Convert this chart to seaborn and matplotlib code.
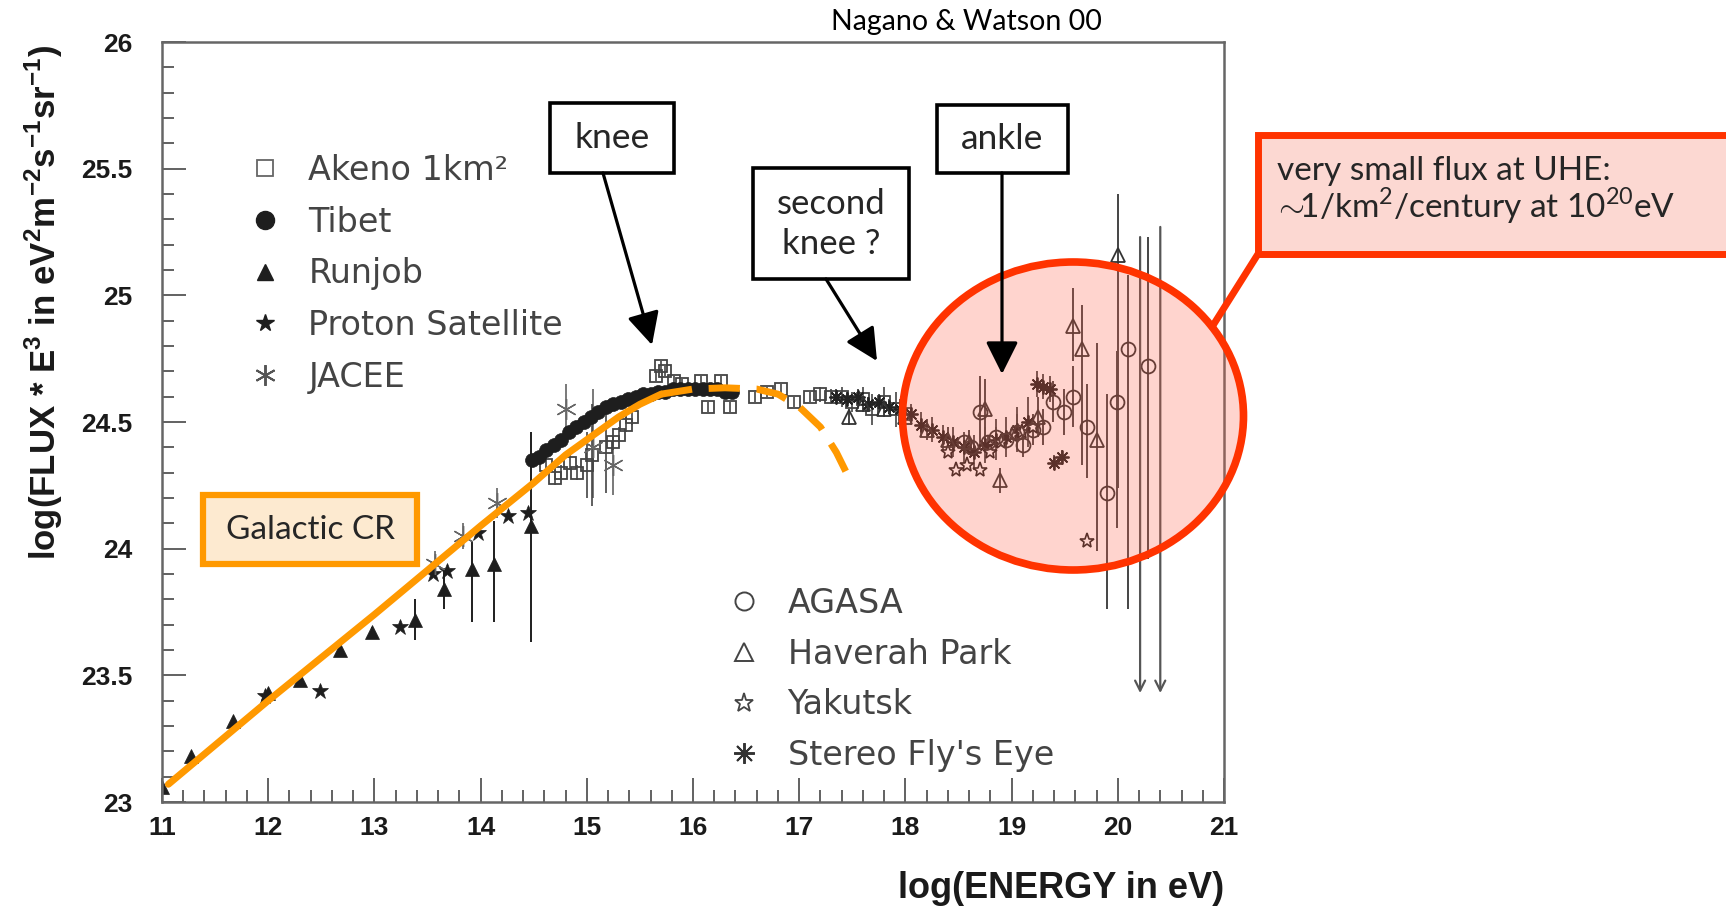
import matplotlib
matplotlib.use("Agg")
import matplotlib.pyplot as plt
import seaborn as sns
from matplotlib.patches import Rectangle, Ellipse, FancyArrowPatch
from matplotlib.lines import Line2D
from matplotlib.ticker import MultipleLocator, FuncFormatter

# ---------------- data ----------------
runjob_x = [11.00, 11.27, 11.67, 12.00, 12.30, 12.68, 12.98, 13.38, 13.66, 13.92, 14.13, 14.47]
runjob_y = [23.06, 23.18, 23.32, 23.43, 23.48, 23.60, 23.67, 23.72, 23.84, 23.92, 23.94, 24.09]
runjob_lo = [0.0, 0.0, 0.0, 0.0, 0.0, 0.02, 0.02, 0.08, 0.08, 0.21, 0.23, 0.46]
runjob_hi = [0.0, 0.0, 0.0, 0.0, 0.0, 0.02, 0.02, 0.08, 0.07, 0.11, 0.17, 0.37]

proton_x = [11.97, 12.49, 13.24, 13.55, 13.68, 13.98, 14.26, 14.45]
proton_y = [23.42, 23.44, 23.69, 23.90, 23.91, 24.06, 24.13, 24.14]

jacee_x = [13.57, 13.83, 14.15, 14.80, 15.06, 15.25]
jacee_y = [23.94, 24.05, 24.18, 24.55, 24.40, 24.33]
jacee_lo = [0.05, 0.05, 0.06, 0.12, 0.20, 0.12]
jacee_hi = [0.05, 0.05, 0.06, 0.10, 0.23, 0.10]

tibet_x = [14.48, 14.55, 14.62, 14.69, 14.76, 14.83, 14.90, 14.97, 15.04, 15.11,
           15.18, 15.25, 15.32, 15.39, 15.46, 15.53, 15.60, 15.67, 15.74, 15.81,
           15.88, 15.95, 16.02, 16.09, 16.16, 16.23, 16.30, 16.37]
tibet_y = [24.35, 24.36, 24.39, 24.41, 24.43, 24.46, 24.48, 24.50, 24.52, 24.54,
           24.56, 24.57, 24.58, 24.59, 24.60, 24.61, 24.61, 24.62, 24.62, 24.63,
           24.63, 24.63, 24.63, 24.63, 24.63, 24.63, 24.62, 24.62]

akeno_x = [14.62, 14.70, 14.76, 14.84, 14.91, 15.00, 15.05, 15.18, 15.25, 15.30,
           15.37, 15.43, 15.65, 15.70, 15.74, 15.82, 15.90, 16.08, 16.14, 16.26,
           16.35, 16.58, 16.70, 16.83, 16.95, 17.10, 17.20, 17.30, 17.40, 17.50,
           17.60, 17.69, 17.80, 17.91, 18.00]
akeno_y = [24.33, 24.28, 24.30, 24.34, 24.30, 24.33, 24.37, 24.40, 24.42, 24.45,
           24.49, 24.52, 24.68, 24.72, 24.70, 24.66, 24.65, 24.66, 24.56, 24.66,
           24.56, 24.60, 24.62, 24.63, 24.58, 24.60, 24.61, 24.60, 24.60, 24.58,
           24.59, 24.55, 24.58, 24.55, 24.53]
akeno_err = [0.03, 0.03, 0.03, 0.03, 0.03, 0.13, 0.20, 0.18, 0.03, 0.03,
             0.03, 0.03, 0.02, 0.02, 0.02, 0.02, 0.02, 0.02, 0.02, 0.02,
             0.02, 0.02, 0.02, 0.02, 0.02, 0.02, 0.03, 0.03, 0.04, 0.04,
             0.05, 0.06, 0.06, 0.07, 0.07]

fly_x = [17.35, 17.45, 17.55, 17.65, 17.75, 17.85, 17.95, 18.05, 18.15, 18.25,
         18.35, 18.45, 18.55, 18.65, 18.75, 18.85, 18.95, 19.05, 19.15, 19.24,
         19.30, 19.36, 19.40, 19.47]
fly_y = [24.60, 24.59, 24.60, 24.57, 24.58, 24.56, 24.55, 24.53, 24.49, 24.47,
         24.44, 24.42, 24.40, 24.38, 24.41, 24.43, 24.44, 24.47, 24.50, 24.65,
         24.64, 24.63, 24.34, 24.36]
fly_err = [0.03, 0.03, 0.03, 0.03, 0.03, 0.03, 0.04, 0.04, 0.05, 0.05,
           0.05, 0.06, 0.06, 0.07, 0.07, 0.08, 0.08, 0.09, 0.10, 0.05,
           0.05, 0.05, 0.03, 0.03]

yak_x = [18.40, 18.48, 18.58, 18.70, 18.80, 18.90, 19.00, 19.10, 19.20, 19.71]
yak_y = [24.38, 24.31, 24.33, 24.31, 24.38, 24.42, 24.45, 24.46, 24.48, 24.03]

hp_x = [17.47, 17.60, 17.80, 18.00, 18.20, 18.40, 18.60, 18.75, 18.89, 19.05,
        19.25, 19.58, 19.66, 19.80, 20.00]
hp_y = [24.52, 24.57, 24.55, 24.52, 24.47, 24.43, 24.42, 24.55, 24.27, 24.46,
        24.52, 24.88, 24.79, 24.43, 25.16]
hp_lo = [0.03, 0.03, 0.03, 0.03, 0.04, 0.05, 0.05, 0.12, 0.05, 0.07,
         0.08, 0.14, 0.46, 0.44, 0.92]
hp_hi = [0.03, 0.03, 0.03, 0.03, 0.04, 0.05, 0.05, 0.12, 0.05, 0.07,
         0.08, 0.15, 0.17, 0.38, 0.24]

agasa_x = [18.55, 18.62, 18.70, 18.78, 18.85, 18.95, 19.05, 19.11, 19.20, 19.30,
           19.39, 19.49, 19.58, 19.71, 19.90, 19.99, 20.10, 20.28]
agasa_y = [24.42, 24.40, 24.54, 24.42, 24.44, 24.43, 24.46, 24.41, 24.47, 24.48,
           24.58, 24.54, 24.60, 24.48, 24.22, 24.58, 24.79, 24.72]
agasa_lo = [0.03, 0.03, 0.15, 0.03, 0.04, 0.04, 0.05, 0.05, 0.06, 0.07,
            0.08, 0.09, 0.12, 0.20, 0.46, 0.50, 1.03, 0.76]
agasa_hi = [0.03, 0.03, 0.14, 0.03, 0.04, 0.04, 0.05, 0.05, 0.06, 0.07,
            0.08, 0.09, 0.12, 0.17, 0.39, 0.20, 0.29, 0.51]

limit_x = [20.21, 20.40]
limit_top = [25.23, 25.27]
limit_bottom = [23.43, 23.43]

gal_solid_x = [11.06, 12.00, 13.00, 14.00, 14.50, 14.80, 15.00, 15.30, 15.50, 15.70]
gal_solid_y = [23.07, 23.40, 23.74, 24.09, 24.26, 24.37, 24.43, 24.52, 24.57, 24.61]
gal_dash_x = [15.70, 16.00, 16.30, 16.60, 16.80, 17.00, 17.20, 17.35, 17.48]
gal_dash_y = [24.61, 24.63, 24.635, 24.63, 24.61, 24.56, 24.48, 24.38, 24.27]

legend1_labels = ["Akeno 1km\u00b2", "Tibet", "Runjob", "Proton Satellite", "JACEE"]
legend2_labels = ["AGASA", "Haverah Park", "Yakutsk", "Stereo Fly's Eye"]

# ---------------- style ----------------
sns.set_theme(style="white")
plt.rcParams["font.family"] = ["DejaVu Sans"]
plt.rcParams["mathtext.fontset"] = "custom"
plt.rcParams["mathtext.rm"] = "Lato"
plt.rcParams["mathtext.bf"] = "Liberation Sans:bold"

W, H = 1726, 909
fig = plt.figure(figsize=(W / 100, H / 100), dpi=100)
fig.patch.set_facecolor("white")
ax = fig.add_axes([162 / W, 1 - 802 / H, (1224 - 162) / W, (802 - 42) / H])
ax.set_facecolor("white")

DARK = "#1e1e1e"
ASTER6 = (6, 2, 0)
ASTER8 = (8, 2, 0)


def pts(x, y, **kw):
    sns.lineplot(x=x, y=y, estimator=None, sort=False, errorbar=None,
                 linestyle="none", legend=False, ax=ax, **kw)


# error bars
ax.errorbar(runjob_x, runjob_y, yerr=[runjob_lo, runjob_hi], fmt="none",
            ecolor=DARK, elinewidth=1.4, zorder=2)
ax.errorbar(jacee_x, jacee_y, yerr=[jacee_lo, jacee_hi], fmt="none",
            ecolor="#555", elinewidth=1.1, zorder=2)
ax.errorbar(akeno_x, akeno_y, yerr=akeno_err, fmt="none",
            ecolor="#444", elinewidth=1.2, zorder=2)
ax.errorbar(fly_x, fly_y, yerr=fly_err, fmt="none",
            ecolor="#333", elinewidth=1.2, zorder=2)
ax.errorbar(hp_x, hp_y, yerr=[hp_lo, hp_hi], fmt="none",
            ecolor="#444", elinewidth=1.4, zorder=2)
ax.errorbar(agasa_x, agasa_y, yerr=[agasa_lo, agasa_hi], fmt="none",
            ecolor="#444", elinewidth=1.4, zorder=2)
for lx, lt, lb in zip(limit_x, limit_top, limit_bottom):
    ax.annotate("", xy=(lx, lb), xytext=(lx, lt),
                arrowprops=dict(arrowstyle="->,head_length=0.6,head_width=0.3",
                                color="#555", lw=1.6, shrinkA=0, shrinkB=0))

# markers
pts(akeno_x, akeno_y, marker="s", markersize=9, mfc="none", mec="#444", mew=1.3)
pts(tibet_x, tibet_y, marker="o", markersize=10, mfc=DARK, mec=DARK, mew=0.5)
pts(runjob_x, runjob_y, marker="^", markersize=10, mfc=DARK, mec=DARK, mew=0.5)
pts(proton_x, proton_y, marker="*", markersize=12, mfc=DARK, mec=DARK, mew=0.5)
pts(jacee_x, jacee_y, marker=ASTER6, markersize=15, mfc="none", mec="#666", mew=1.0)
pts(fly_x, fly_y, marker=ASTER8, markersize=10, mfc="none", mec="#222", mew=1.3)
pts(yak_x, yak_y, marker="*", markersize=11, mfc="white", mec="#222", mew=1.2)
pts(hp_x, hp_y, marker="^", markersize=10, mfc="none", mec="#333", mew=1.3)
pts(agasa_x, agasa_y, marker="o", markersize=10, mfc="none", mec="#333", mew=1.3)

# orange galactic CR curve
ORANGE = "#FF9900"
sns.lineplot(x=gal_solid_x, y=gal_solid_y, estimator=None, sort=False, errorbar=None,
             color=ORANGE, lw=5, legend=False, ax=ax, zorder=4)
sns.lineplot(x=gal_dash_x, y=gal_dash_y, estimator=None, sort=False, errorbar=None,
             color=ORANGE, lw=5, linestyle=(0, (4.5, 2.4)), legend=False, ax=ax, zorder=4)

# axes
ax.set_xlim(11, 21)
ax.set_ylim(23, 26)
ax.set_xlabel("")
ax.set_ylabel("")
ax.xaxis.set_major_locator(MultipleLocator(1))
ax.xaxis.set_minor_locator(MultipleLocator(0.2))
ax.yaxis.set_major_locator(MultipleLocator(0.5))
ax.yaxis.set_minor_locator(MultipleLocator(0.1))
ax.yaxis.set_major_formatter(FuncFormatter(lambda v, p: f"{v:g}"))
ax.xaxis.set_major_formatter(FuncFormatter(lambda v, p: f"{v:g}"))
ax.tick_params(which="both", direction="in", top=False, right=False,
               bottom=True, left=True, color="#555", width=1.3)
ax.tick_params(which="major", length=17)
ax.tick_params(which="minor", length=8.5)
ax.tick_params(axis="x", pad=10)
ax.tick_params(axis="y", pad=21)
for lbl in ax.get_xticklabels() + ax.get_yticklabels():
    lbl.set_fontfamily(["Liberation Sans Narrow", "Liberation Sans"])
    lbl.set_fontweight("bold")
    lbl.set_fontsize(19)
    lbl.set_color("#1a1a1a")
for sp in ax.spines.values():
    sp.set_color("#666")
    sp.set_linewidth(1.8)

# legends
h1 = [Line2D([], [], ls="none", marker="s", ms=12, mfc="none", mec="#666", mew=1.3),
      Line2D([], [], ls="none", marker="o", ms=13, mfc=DARK, mec=DARK),
      Line2D([], [], ls="none", marker="^", ms=12, mfc=DARK, mec=DARK),
      Line2D([], [], ls="none", marker="*", ms=13, mfc=DARK, mec=DARK),
      Line2D([], [], ls="none", marker=ASTER6, ms=15, mfc="none", mec="#555", mew=1.4)]
leg1 = ax.legend(handles=h1, labels=legend1_labels, loc="upper left",
                 bbox_to_anchor=((248.5 - 162) / 1062, (802 - 154) / 760),
                 frameon=False, fontsize=24, labelcolor="#444", handlelength=1.0,
                 handletextpad=0.8, labelspacing=0.56, borderpad=0, borderaxespad=0)
ax.add_artist(leg1)
h2 = [Line2D([], [], ls="none", marker="o", ms=13, mfc="none", mec="#444", mew=1.4),
      Line2D([], [], ls="none", marker="^", ms=13, mfc="none", mec="#444", mew=1.4),
      Line2D([], [], ls="none", marker="*", ms=14, mfc="white", mec="#444", mew=1.3),
      Line2D([], [], ls="none", marker=ASTER8, ms=15, mfc="none", mec="#333", mew=1.4)]
leg2 = ax.legend(handles=h2, labels=legend2_labels, loc="upper left",
                 bbox_to_anchor=((727.5 - 162) / 1062, (802 - 587) / 760),
                 frameon=False, fontsize=24, labelcolor="#444", handlelength=1.0,
                 handletextpad=0.8, labelspacing=0.53, borderpad=0, borderaxespad=0)

# axis titles
fig.text(44 / W, 1 - 302 / H,
         r"log(FLUX * E$^{\mathbf{3}}$ in eV$^{\mathbf{2}}$m$^{\mathbf{-2}}$s$^{\mathbf{-1}}$sr$^{\mathbf{-1}}$)",
         rotation=90, ha="center", va="center", fontsize=25, fontweight="bold",
         family="Liberation Sans", color="#1a1a1a")
fig.text(1224 / W, 1 - 889 / H, "log(ENERGY in eV)", ha="right", va="center",
         fontsize=26, fontweight="bold", family="Liberation Sans", color="#1a1a1a")
fig.text(966 / W, 1 - 22 / H, "Nagano & Watson 00", ha="center", va="center",
         fontsize=20.5, family="Lato", color="black")


# ---------------- annotations (figure pixel layout) ----------------
def fxy(px, py):
    return (px / W, 1 - py / H)


def box(x0, y0, x1, y1, ec, fc, lw, z=3):
    r = Rectangle(fxy(x0, y1), (x1 - x0) / W, (y1 - y0) / H, transform=fig.transFigure,
                  ec=ec, fc=fc, lw=lw, zorder=z, clip_on=False)
    fig.add_artist(r)


def arrow(p0, p1):
    a = FancyArrowPatch(fxy(*p0), fxy(*p1), transform=fig.transFigure,
                        arrowstyle="-|>,head_length=0.9,head_width=0.45",
                        mutation_scale=22, lw=2.3, color="black", zorder=6,
                        shrinkA=0, shrinkB=0)
    fig.add_artist(a)


RED = "#FF3300"
ell = Ellipse(fxy(1073, 416), 341 / W, 308 / H, transform=fig.transFigure,
              ec=RED, fc=(1.0, 0.36, 0.26, 0.26), lw=5.5, zorder=2)
fig.add_artist(ell)
fig.add_artist(Line2D([1258 / W, 1212 / W], [1 - 254 / H, 1 - 327 / H],
                      transform=fig.transFigure, color=RED, lw=5, zorder=2))
box(1258, 135, 1745, 254, RED, "#FCD8D2", 5, z=3)
fig.text(1277 / W, 1 - 171 / H, "very small flux at UHE:", ha="left", va="center",
         fontsize=24, family="Lato", zorder=7)
fig.text(1277 / W, 1 - 206 / H, r"$\!{\sim}\!\!$1/km$^{2}$/century at 10$^{20}$eV",
         ha="left", va="center", fontsize=24, family="Lato", zorder=7)

box(550, 103, 674, 173, "black", "white", 2.6, z=5)
fig.text(612 / W, 1 - 138 / H, "knee", ha="center", va="center", fontsize=25.5,
         family="Lato", zorder=7)
box(753, 168, 909, 279, "black", "white", 2.6, z=5)
fig.text(831 / W, 1 - 224 / H, "second\nknee ?", ha="center", va="center", fontsize=25,
         family="Lato", linespacing=1.3, zorder=7)
box(937, 105, 1068, 173, "black", "white", 2.6, z=5)
fig.text(1002 / W, 1 - 139 / H, "ankle", ha="center", va="center", fontsize=25.5,
         family="Lato", zorder=7)
box(203, 495, 417, 564, ORANGE, "#FDEAD0", 4.5, z=5)
fig.text(310 / W, 1 - 530 / H, "Galactic CR", ha="center", va="center", fontsize=24,
         family="Lato", zorder=7)

arrow((603, 173), (652, 345))
arrow((826, 279), (877, 361))
arrow((1002, 173), (1002, 374))

fig.savefig("out.png", dpi=100, facecolor="white")
